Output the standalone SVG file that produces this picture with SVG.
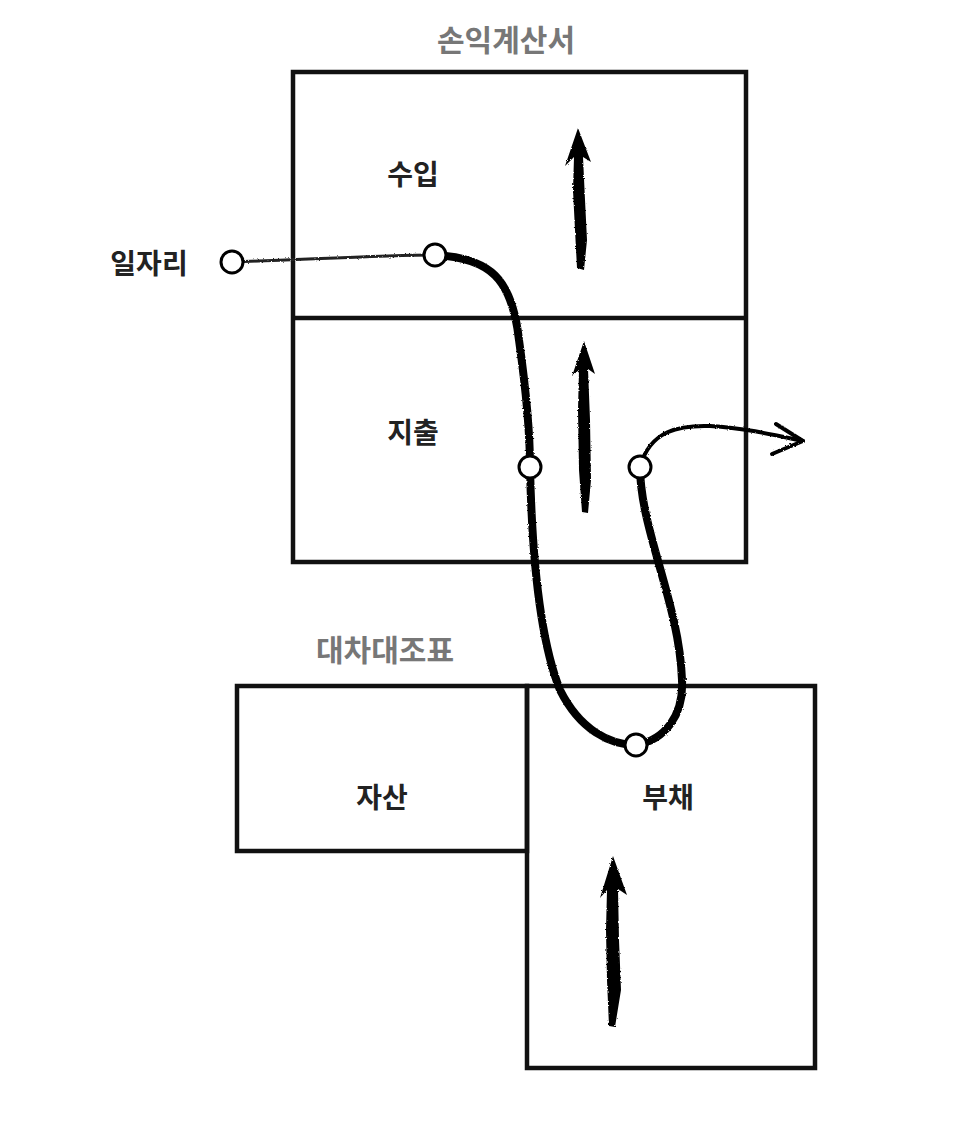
<svg xmlns="http://www.w3.org/2000/svg" width="969" height="1128" viewBox="0 0 969 1128">
<style>
.box{fill:none;stroke:#111;stroke-width:4.5}
.lbl{font-family:"Noto Sans CJK KR","Noto Sans",sans-serif;font-weight:bold;font-size:28px;fill:#222;text-anchor:middle}
.ttl{font-family:"Noto Sans CJK KR","Noto Sans",sans-serif;font-weight:bold;font-size:30px;fill:#777;text-anchor:middle}
.thick{fill:none;stroke:#000;stroke-width:8;stroke-linecap:round}
.thin{fill:none;stroke:#222;stroke-width:3;stroke-linecap:round}
.arr{fill:none;stroke:#000;stroke-width:4;stroke-linecap:round;stroke-linejoin:round}
.dot{fill:#fff;stroke:#000;stroke-width:3}
.up{fill:#000}
</style>
<defs>
<filter id="rough" x="-10%" y="-10%" width="120%" height="120%">
<feTurbulence type="fractalNoise" baseFrequency="0.6" numOctaves="2" seed="3" result="n"/>
<feDisplacementMap in="SourceGraphic" in2="n" scale="2.5"/>
</filter>
</defs>
<g id="income-statement">
<text class="ttl" x="506" y="51">손익계산서</text>
<rect class="box" x="293" y="72" width="453" height="490"/>
<line class="box" x1="293" y1="318" x2="746" y2="318"/>
</g>
<g id="revenue"><text class="lbl" x="413" y="185">수입</text></g>
<g id="expense"><text class="lbl" x="413" y="443">지출</text></g>
<g id="job-label"><text class="lbl" x="149" y="274">일자리</text></g>
<g id="balance-sheet">
<text class="ttl" x="385" y="661">대차대조표</text>
</g>
<g id="assets">
<rect class="box" x="237" y="686" width="290" height="165"/>
<text class="lbl" x="382" y="808">자산</text>
</g>
<g id="liabilities">
<rect class="box" x="527" y="686" width="288" height="382"/>
<text class="lbl" x="668" y="808">부채</text>
</g>
<g id="connectors" filter="url(#rough)">
<path class="thin" d="M232,262 C300,260 380,255 435,255"/>
<path class="thick" d="M435,255 C490,258 512,278 519,340 C526,390 530,430 530,467 C532,560 540,640 560,690 C580,730 610,745 636,745 C665,740 684,715 682,680 C680,620 655,560 645,510 C641,490 640,480 640,467"/>
<path class="arr" d="M640,467 C650,430 680,425 710,426 C745,428 775,435 803,441"/>
<path class="arr" d="M776,424 L803,441 L772,454"/>
<path class="up" d="M578,128 L591,162 L583,157 L585,200 L587,240 L584,270 L577,268 L575,230 L573,190 L574,157 L565,166 Z"/>
<path class="up" d="M584,341 L595,374 L588,369 L590,420 L591,480 L588,513 L582,512 L579,470 L578,410 L579,370 L572,376 Z"/>
<path class="up" d="M613,856 L627,895 L618,889 L619,940 L621,990 L615,1027 L609,1026 L607,980 L606,930 L607,890 L600,898 Z"/>
</g>
<g id="nodes">
<circle class="dot" cx="232" cy="262" r="11"/>
<circle class="dot" cx="435" cy="255" r="11"/>
<circle class="dot" cx="530" cy="467" r="11"/>
<circle class="dot" cx="640" cy="467" r="11"/>
<circle class="dot" cx="636" cy="745" r="11"/>
</g>
</svg>
